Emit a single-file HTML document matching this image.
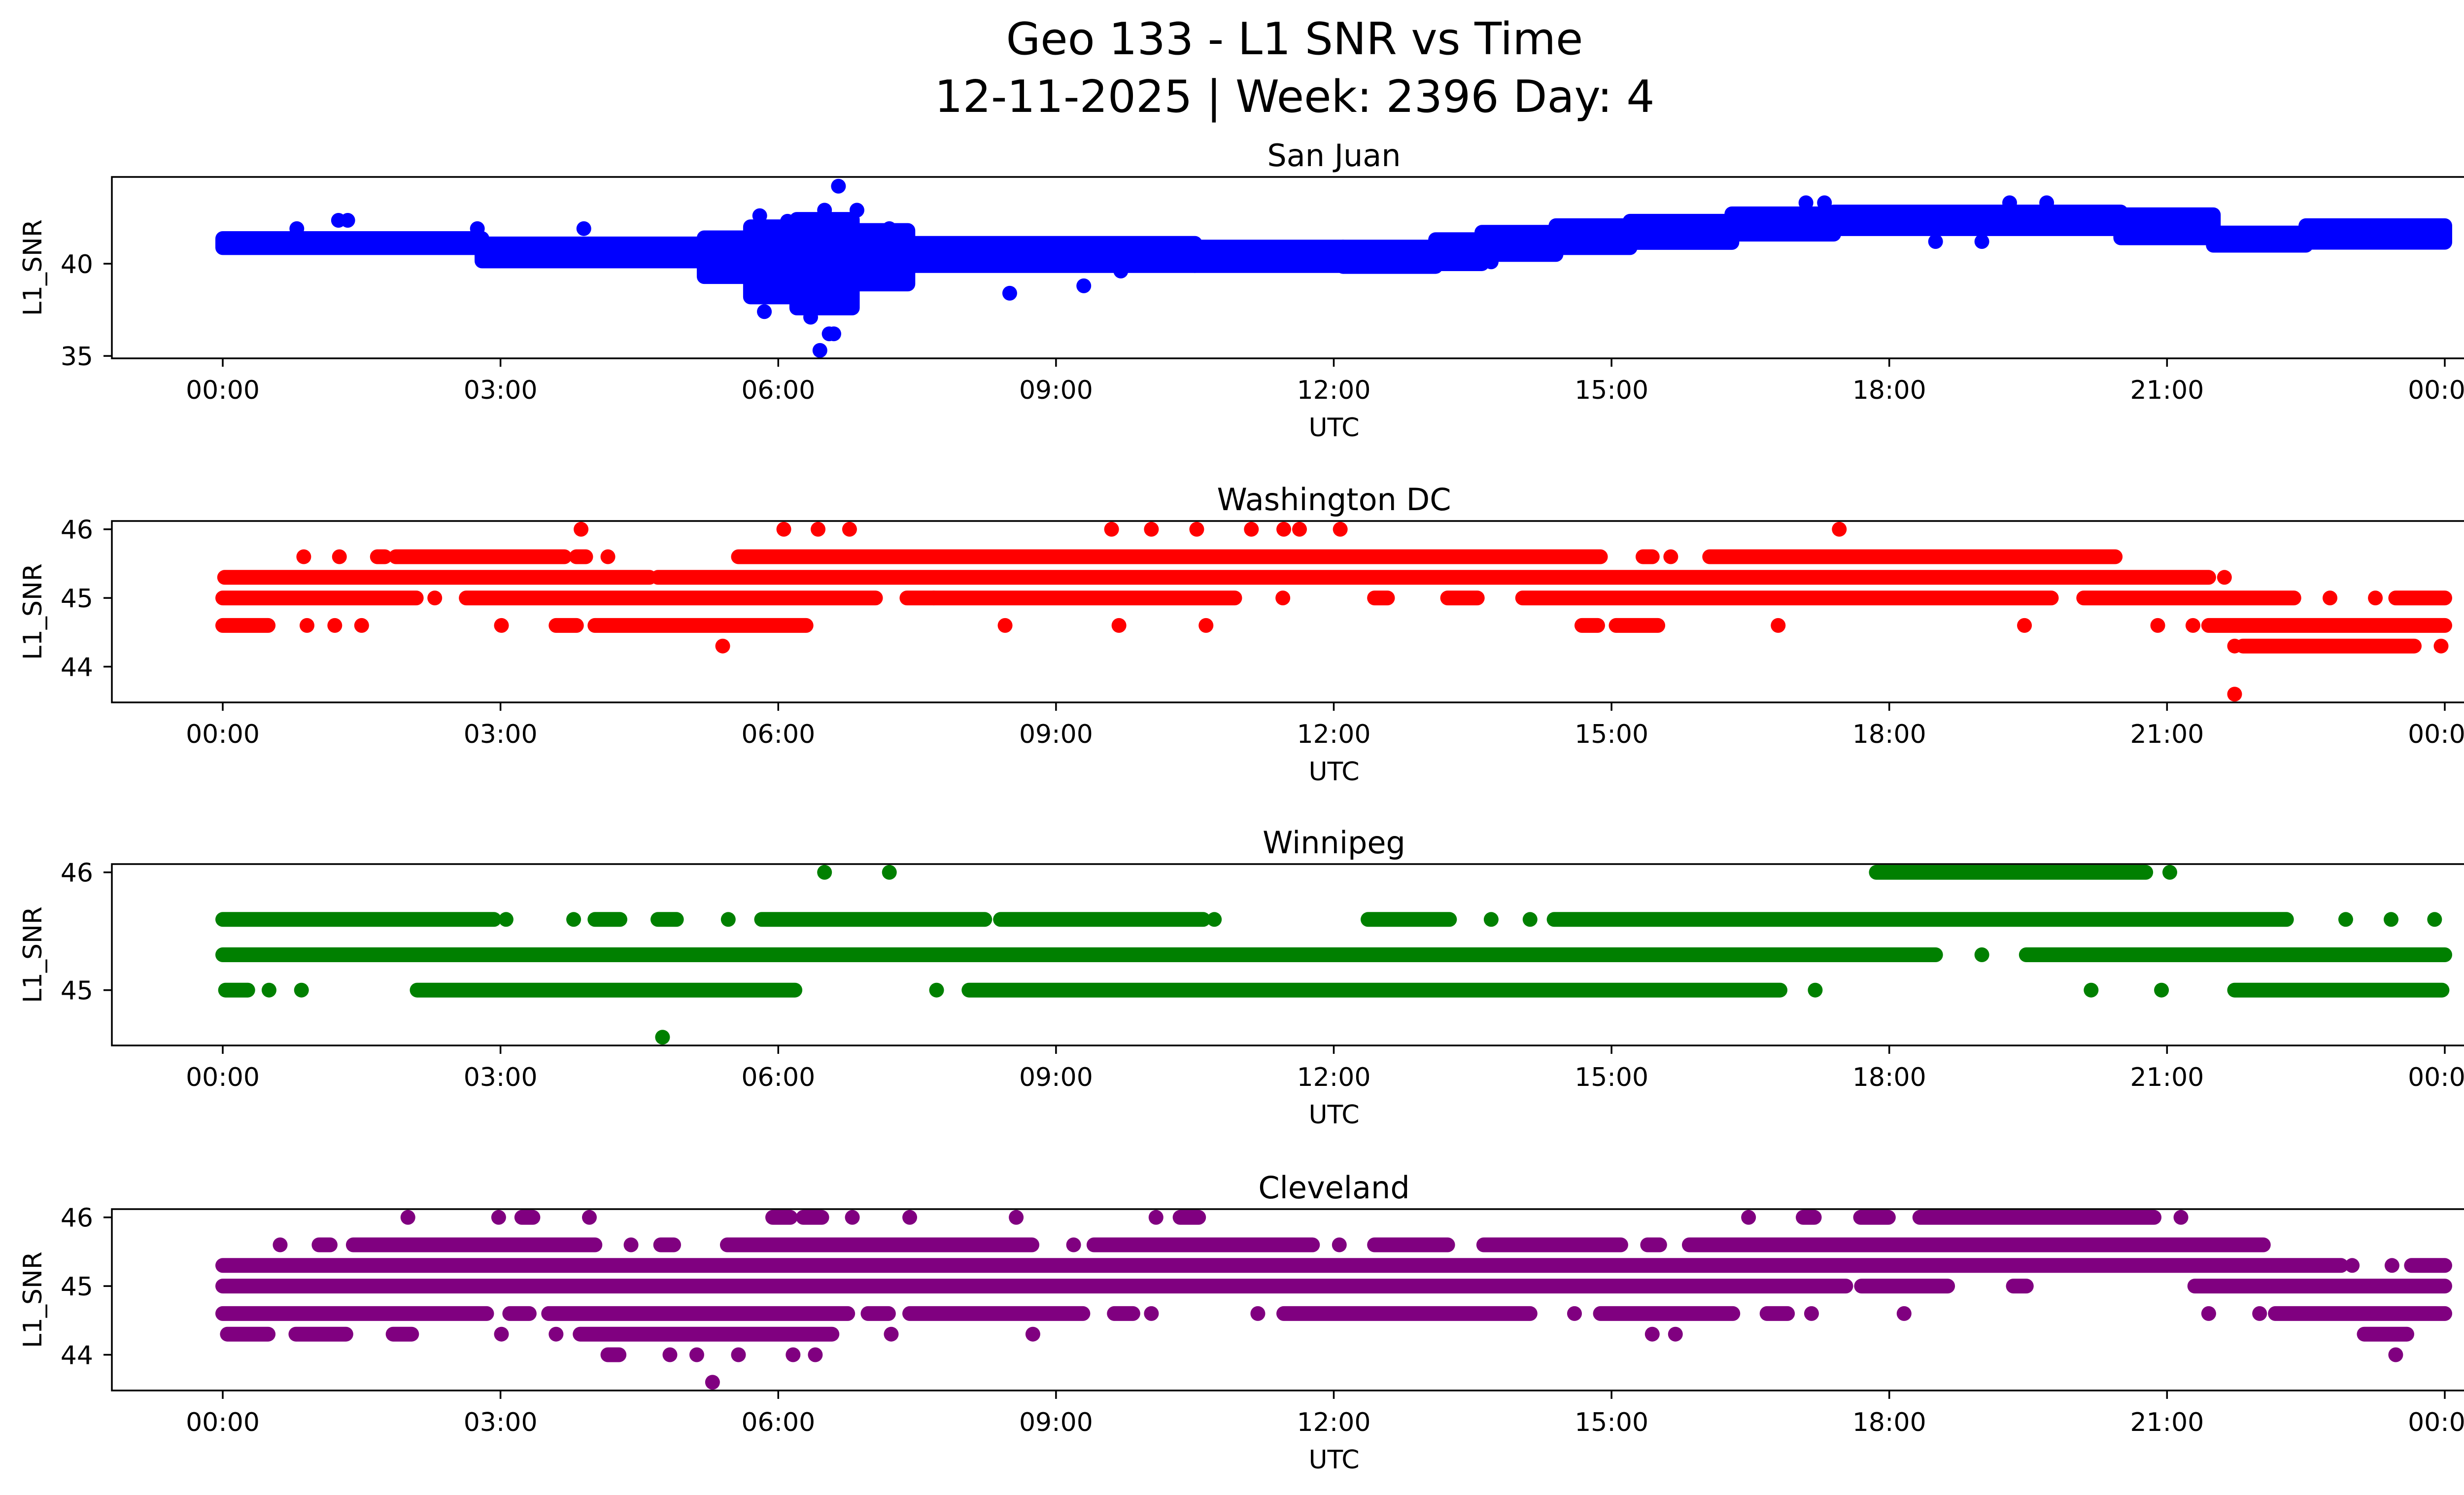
<!DOCTYPE html>
<html><head><meta charset="utf-8"><style>
html,body{margin:0;padding:0;background:#fff;width:5225px;height:3033px;overflow:hidden}
svg{display:block}
text{font-family:"DejaVu Sans","Liberation Sans",sans-serif;fill:#000}
</style></head><body>
<svg id="fig" width="5225" height="3033" viewBox="0 0 5225 3033" xmlns="http://www.w3.org/2000/svg">
<rect width="5225" height="3033" fill="#fff"/>
<text x="2627" y="110" font-size="90" text-anchor="middle">Geo 133 - L1 SNR vs Time</text>
<text x="2627" y="227" font-size="90" text-anchor="middle">12-11-2025 | Week: 2396 Day: 4</text>
</svg>
<script>
// ---- data ----
const xTickLabels = ["00:00","03:00","06:00","09:00","12:00","15:00","18:00","21:00","00:00"];
const xTickHours = [0,3,6,9,12,15,18,21,24];

// San Juan band segments: start hour, end hour, upper value, lower value
const sjStart = [0,2.8,5.2,5.7,6.2,6.8,7.4,10.5,12.1,13.1,13.6,14.4,15.2,16.3,17.4,20.5,21.5,22.5];
const sjEnd   = [2.8,5.2,5.7,6.2,6.8,7.4,10.5,12.1,13.1,13.6,14.4,15.2,16.3,17.4,20.5,21.5,22.5,24.0];
const sjHi    = [41.36,41.07,41.4,42.0,42.4,41.8,41.1,40.9,40.9,41.3,41.7,42.06,42.3,42.7,42.8,42.65,41.66,42.06];
const sjLo    = [40.87,40.15,39.3,38.2,37.6,38.9,39.9,39.9,39.85,40.0,40.5,40.87,41.15,41.6,41.9,41.4,41.0,41.16];
const sjSpikeHours = [0.8,1.25,1.35,2.75,3.9,5.8,6.1,6.5,6.65,6.85,6.45,6.55,6.6,5.85,6.35,7.2,8.5,9.3,9.7,13.7,17.1,17.3,18.5,19.0,19.3,19.7];
const sjSpikeVals  = [41.9,42.35,42.35,41.9,41.9,42.6,42.3,42.9,44.2,42.9,35.3,36.2,36.2,37.4,37.1,41.9,38.4,38.8,39.6,40.1,43.3,43.3,41.2,41.2,43.3,43.3];

// Washington DC runs: [value, startHour, endHour]
const dcRuns = [
[46,3.87,3.87],[46,6.06,6.06],[46,6.43,6.43],[46,6.77,6.77],[46,9.6,9.6],[46,10.03,10.03],[46,10.52,10.52],[46,11.11,11.11],[46,11.46,11.46],[46,11.63,11.63],[46,12.07,12.07],[46,17.46,17.46],
[45.6,0.875,0.875],[45.6,1.26,1.26],[45.6,1.67,1.75],[45.6,1.87,3.69],[45.6,3.82,3.92],[45.6,4.16,4.16],[45.6,5.57,14.88],[45.6,15.34,15.44],[45.6,15.64,15.64],[45.6,16.06,20.44],
[45.3,0.02,4.61],[45.3,4.7,21.45],[45.3,21.62,21.62],
[45,0,2.09],[45,2.29,2.29],[45,2.63,7.05],[45,7.39,7.68],[45,7.68,10.93],[45,11.45,11.45],[45,12.44,12.58],[45,13.23,13.55],[45,14.04,19.75],[45,20.1,22.37],[45,22.76,22.76],[45,23.25,23.25],[45,23.47,24]],
dcRuns2 = [
[44.6,0,0.49],[44.6,0.91,0.91],[44.6,1.21,1.21],[44.6,1.5,1.5],[44.6,3.01,3.01],[44.6,3.6,3.82],[44.6,4.02,6.3],[44.6,8.45,8.45],[44.6,9.68,9.68],[44.6,10.62,10.62],[44.6,14.68,14.85],[44.6,15.05,15.5],[44.6,16.8,16.8],[44.6,19.46,19.46],[44.6,20.9,20.9],[44.6,21.28,21.28],[44.6,21.45,24],
[44.3,5.4,5.4],[44.3,21.73,21.73],[44.3,21.82,23.67],[44.3,23.96,23.96],
[43.6,21.73,21.73]];

// Winnipeg runs
const wpRuns = [
[46,6.5,6.5],[46,7.2,7.2],[46,17.86,20.77],[46,21.03,21.03],
[45.6,0,2.93],[45.6,3.06,3.06],[45.6,3.79,3.79],[45.6,4.02,4.29],[45.6,4.7,4.9],[45.6,5.46,5.46],[45.6,5.82,8.23],[45.6,8.4,10.59],[45.6,10.71,10.71],[45.6,12.37,13.25],[45.6,13.7,13.7],[45.6,14.12,14.12],[45.6,14.38,22.29],[45.6,22.93,22.93],[45.6,23.42,23.42],[45.6,23.89,23.89],
[45.3,0,18.5],[45.3,19.0,19.0],[45.3,19.48,24],
[45,0.03,0.27],[45,0.5,0.5],[45,0.85,0.85],[45,2.1,6.18],[45,7.71,7.71],[45,8.06,16.82],[45,17.2,17.2],[45,20.18,20.18],[45,20.94,20.94],[45,21.73,23.97],
[44.6,4.75,4.75]];

// Cleveland runs
const clRuns = [
[46,2.0,2.0],[46,2.98,2.98],[46,3.23,3.35],[46,3.96,3.96],[46,5.94,6.13],[46,6.27,6.47],[46,6.8,6.8],[46,7.42,7.42],[46,8.57,8.57],[46,10.08,10.08],[46,10.34,10.54],[46,16.48,16.48],[46,17.07,17.19],[46,17.69,17.99],[46,18.33,20.86],[46,21.15,21.15],
[45.6,0.62,0.62],[45.6,1.04,1.16],[45.6,1.41,4.02],[45.6,4.41,4.41],[45.6,4.73,4.87],[45.6,5.45,8.74],[45.6,9.19,9.19],[45.6,9.41,11.77],[45.6,12.06,12.06],[45.6,12.44,13.23],[45.6,13.62,15.1],[45.6,15.39,15.52],[45.6,15.84,22.04],
[45.3,0,22.88],[45.3,23.0,23.0],[45.3,23.43,23.43],[45.3,23.64,24],
[45,0,17.53],[45,17.7,18.63],[45,19.34,19.48],[45,21.3,24]],
clRuns2 = [
[44.6,0,2.85],[44.6,3.1,3.31],[44.6,3.52,6.75],[44.6,6.97,7.19],[44.6,7.42,9.29],[44.6,9.63,9.83],[44.6,10.03,10.03],[44.6,11.18,11.18],[44.6,11.46,14.12],[44.6,14.6,14.6],[44.6,14.88,16.31],[44.6,16.68,16.9],[44.6,17.16,17.16],[44.6,18.16,18.16],[44.6,21.45,21.45],[44.6,22.0,22.0],[44.6,22.17,24],
[44.3,0.05,0.49],[44.3,0.79,1.33],[44.3,1.84,2.04],[44.3,3.01,3.01],[44.3,3.6,3.6],[44.3,3.86,6.58],[44.3,7.22,7.22],[44.3,8.75,8.75],[44.3,15.44,15.44],[44.3,15.69,15.69],[44.3,23.13,23.59],
[44,4.16,4.28],[44,4.83,4.83],[44,5.12,5.12],[44,5.57,5.57],[44,6.16,6.16],[44,6.4,6.4],[44,23.47,23.47],
[43.6,5.29,5.29]];

const panelTitles = ["San Juan","Washington DC","Winnipeg","Cleveland"];
const panelYMin = [34.87,43.48,44.53,43.48];
const panelYMax = [44.7,46.12,46.07,46.12];
const panelYTicks = [[35,40],[44,45,46],[45,46],[44,45,46]];
const panelColors = ["#0000ff","#ff0000","#008000","#800080"];

// ---- layout ----
const NS = "http://www.w3.org/2000/svg";
const svg = document.getElementById("fig");
const AX_L = 227, AX_R = 5187, AX_H = 368;
const AX_TOPS = [359, 1057, 1753, 2453];
const X0 = 452, X24 = 4961;
const R = 15;
function xScale(h){ return X0 + (X24 - X0) * h / 24; }
function mk(tag, attrs, parent){
  const e = document.createElementNS(NS, tag);
  for (const k in attrs) e.setAttribute(k, attrs[k]);
  (parent || svg).appendChild(e);
  return e;
}

panelTitles.forEach((title, i) => {
  const top = AX_TOPS[i], bot = top + AX_H;
  const ymin = panelYMin[i], ymax = panelYMax[i];
  const yScale = v => bot - (v - ymin) / (ymax - ymin) * AX_H;
  const color = panelColors[i];
  const g = mk("g", {});
  
  
  const clipId = "clip" + i;
  const cp = mk("clipPath", {id: clipId}, g);
  mk("rect", {x: AX_L, y: top, width: AX_R - AX_L, height: AX_H}, cp);
  const marks = mk("g", {"clip-path": "url(#" + clipId + ")"}, g);
  
  

  if (i === 0) {
    for (let k = 0; k < sjStart.length; k++) {
      const x1 = xScale(sjStart[k]) - R, x2 = xScale(sjEnd[k]) + R;
      const y1 = yScale(sjHi[k]) - R, y2 = yScale(sjLo[k]) + R;
      const r = mk("rect", {x: x1, y: y1, width: x2 - x1, height: y2 - y1, rx: R, ry: R, fill: color}, marks);
      
      
    }
    for (let k = 0; k < sjSpikeHours.length; k++) {
      const c = mk("circle", {cx: xScale(sjSpikeHours[k]), cy: yScale(sjSpikeVals[k]), r: R, fill: color}, marks);
      
      
    }
  } else {
    const runs = i === 1 ? dcRuns.concat(dcRuns2) : i === 2 ? wpRuns : clRuns.concat(clRuns2);
    runs.forEach(rn => {
      const y = yScale(rn[0]);
      const l = mk("line", {x1: xScale(rn[1]), x2: xScale(rn[2]) + 0.01, y1: y, y2: y, stroke: color, "stroke-width": 2 * R, "stroke-linecap": "round"}, marks);
      
      
    });
  }

  const frame = mk("rect", {x: AX_L, y: top, width: AX_R - AX_L, height: AX_H, fill: "none", stroke: "#000", "stroke-width": 3.5}, g);
  
  

  const t = mk("text", {x: (AX_L + AX_R) / 2, y: top - 22, "font-size": 62, "text-anchor": "middle"}, g);
  t.textContent = title;
  
  

  xTickHours.forEach((h, k) => {
    const x = xScale(h);
    const tk = mk("line", {x1: x, x2: x, y1: bot, y2: bot + 17, stroke: "#000", "stroke-width": 3.5}, g);
    
    
    const tl = mk("text", {x: x, y: bot + 82, "font-size": 52, "text-anchor": "middle"}, g);
    tl.textContent = xTickLabels[k];
    
    
  });
  const xl = mk("text", {x: (AX_L + AX_R) / 2, y: bot + 158, "font-size": 52, "text-anchor": "middle"}, g);
  xl.textContent = "UTC";
  
  

  panelYTicks[i].forEach(v => {
    const y = yScale(v);
    const tk = mk("line", {x1: AX_L - 17, x2: AX_L, y1: y, y2: y, stroke: "#000", "stroke-width": 3.5}, g);
    
    
    const tl = mk("text", {x: AX_L - 38, y: y + 19, "font-size": 52, "text-anchor": "end"}, g);
    tl.textContent = String(v);
    
    
  });
  const cy = top + AX_H / 2;
  const yl = mk("text", {x: 84, y: cy, "font-size": 52, "text-anchor": "middle", transform: "rotate(-90 84 " + cy + ")"}, g);
  yl.textContent = "L1_SNR";
  
  
});
</script>
</body></html>
